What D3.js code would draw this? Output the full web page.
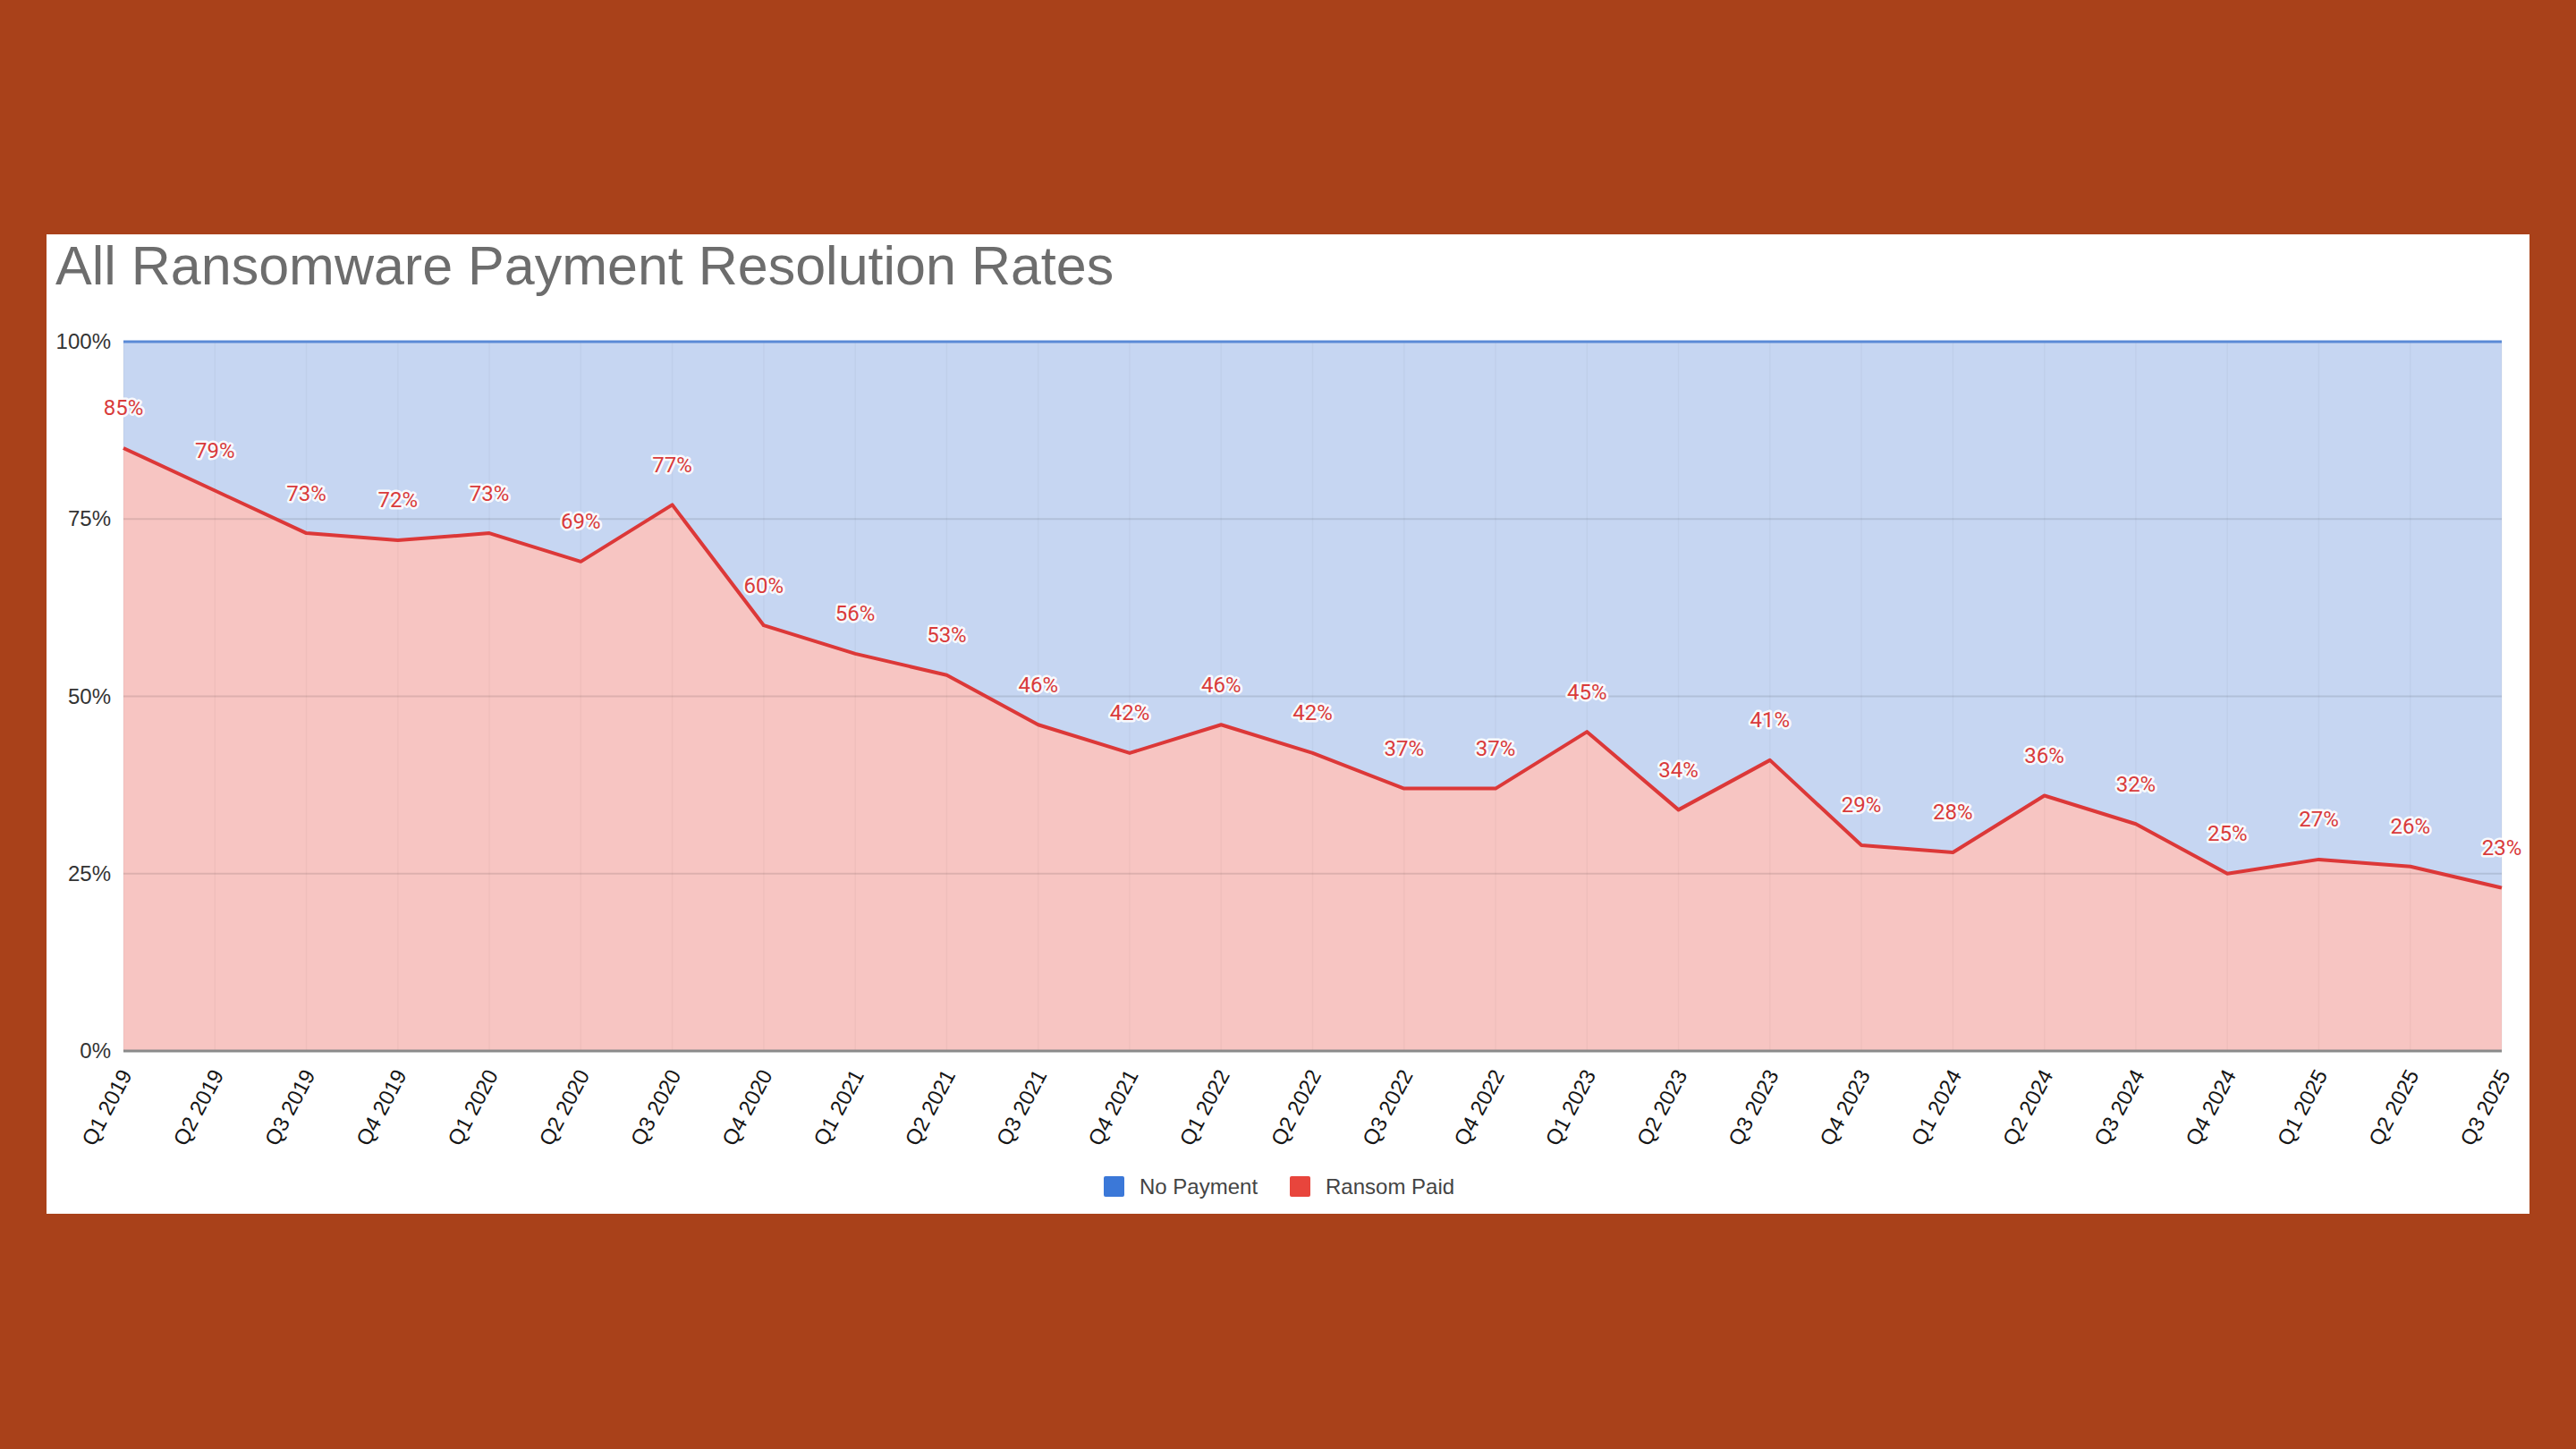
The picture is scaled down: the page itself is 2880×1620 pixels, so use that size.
<!DOCTYPE html>
<html>
<head>
<meta charset="utf-8">
<script src="https://cdn.jsdelivr.net/npm/d3@7"></script>
<style>
  html, body { margin: 0; padding: 0; background: #a9411a; }
  svg { display: block; }
</style>
</head>
<body>
<svg id="chart" width="2880" height="1620"></svg>
<script>
const quarters = ["Q1 2019","Q2 2019","Q3 2019","Q4 2019","Q1 2020","Q2 2020","Q3 2020","Q4 2020",
  "Q1 2021","Q2 2021","Q3 2021","Q4 2021","Q1 2022","Q2 2022","Q3 2022","Q4 2022",
  "Q1 2023","Q2 2023","Q3 2023","Q4 2023","Q1 2024","Q2 2024","Q3 2024","Q4 2024",
  "Q1 2025","Q2 2025","Q3 2025"];
const ransomPaid = [85,79,73,72,73,69,77,60,56,53,46,42,46,42,37,37,45,34,41,29,28,36,32,25,27,26,23];
const yTicks = [0,25,50,75,100];
const seriesNames = ["No Payment","Ransom Paid"];
const titleText = "All Ransomware Payment Resolution Rates";

const svg = d3.select("#chart");
svg.append("rect").attr("x",0).attr("y",0).attr("width",2880).attr("height",1620).attr("fill","#a9411a");
svg.append("rect").attr("x",52).attr("y",262).attr("width",2776).attr("height",1095).attr("fill","#ffffff");

const L = 138, R = 2797, T = 382, B = 1175;
const x = d3.scalePoint().domain(quarters).range([L, R]);
const y = d3.scaleLinear().domain([0,100]).range([B, T]);
const data = quarters.map((q,i)=>({q, v: ransomPaid[i]}));

// Title
svg.append("text").attr("x",62).attr("y",318).text(titleText)
  .attr("font-family","'Liberation Sans', Arial, sans-serif").attr("font-size",61).attr("fill","#6d6d6d");

// Areas
svg.append("path").datum(data)
  .attr("d", d3.area().x(d=>x(d.q)).y0(y(100)).y1(d=>y(d.v)))
  .attr("fill","#c6d6f2");
svg.append("path").datum(data)
  .attr("d", d3.area().x(d=>x(d.q)).y0(y(0)).y1(d=>y(d.v)))
  .attr("fill","#f7c5c2");

// Vertical faint lines
svg.append("g").selectAll("line").data(quarters).join("line")
  .attr("x1",d=>x(d)).attr("x2",d=>x(d)).attr("y1",T).attr("y2",B)
  .attr("stroke","#000").attr("stroke-opacity",0.03).attr("stroke-width",1.5);

// Horizontal gridlines
svg.append("g").selectAll("line").data(yTicks.filter(t=>t>0 && t<100)).join("line")
  .attr("x1",L).attr("x2",R).attr("y1",d=>y(d)).attr("y2",d=>y(d))
  .attr("stroke","#000").attr("stroke-opacity",0.1).attr("stroke-width",2);

// top line (No Payment stack top)
svg.append("path").datum(data)
  .attr("d", d3.line().x(d=>x(d.q)).y(()=>y(100)))
  .attr("fill","none").attr("stroke","#5a8ad6").attr("stroke-width",3);

// Ransom line
svg.append("path").datum(data)
  .attr("d", d3.line().x(d=>x(d.q)).y(d=>y(d.v)))
  .attr("fill","none").attr("stroke","#dc3838").attr("stroke-width",4).attr("stroke-linejoin","round");

// Baseline
svg.append("line").attr("x1",L).attr("x2",R).attr("y1",B).attr("y2",B)
  .attr("stroke","#8a8a8a").attr("stroke-width",3);

// Y axis labels
const yAxis = d3.axisLeft(y).tickValues(yTicks).tickFormat(d=>d+"%").tickSize(0).tickPadding(14);
const gy = svg.append("g").attr("transform",`translate(${L},0)`).call(yAxis);
gy.select(".domain").remove();
gy.selectAll("text").attr("font-family","'Liberation Sans', Arial, sans-serif").attr("font-size",24).attr("fill","#333");

// X axis labels
const xAxis = d3.axisBottom(x).tickSize(0).tickPadding(0);
const gx = svg.append("g").attr("transform",`translate(0,${B})`).call(xAxis);
gx.select(".domain").remove();
gx.selectAll("text")
  .attr("font-family","'Liberation Sans', Arial, sans-serif").attr("font-size",24).attr("fill","#151515")
  .attr("text-anchor","end")
  .attr("dy","0.75em")
  .attr("transform","translate(-6,18) rotate(-62)")
  .attr("y",0).attr("x",0);

// Data labels
svg.append("g").selectAll("text").data(data).join("text")
  .attr("x",d=>x(d.q)).attr("y",d=>y(d.v)-45).attr("dy","0.35em")
  .attr("text-anchor","middle")
  .text(d=>d.v+"%")
  .attr("font-family","Roboto, 'Liberation Sans', Arial, sans-serif").attr("font-size",24).attr("font-weight",400)
  .attr("fill","#d93b3b").attr("stroke","#ffffff").attr("stroke-width",5).attr("stroke-opacity",0.9)
  .attr("paint-order","stroke").attr("stroke-linejoin","round");

// Legend
const legColors = ["#3b78d8","#e8453c"];
const legX = [1234, 1442];
const lg = svg.append("g");
seriesNames.forEach((n,i)=>{
  lg.append("rect").attr("x",legX[i]).attr("y",1315).attr("width",23).attr("height",23).attr("rx",2).attr("fill",legColors[i]);
  lg.append("text").attr("x",legX[i]+40).attr("y",1327).attr("dy","0.35em").text(n)
    .attr("font-family","'Liberation Sans', Arial, sans-serif").attr("font-size",24).attr("fill","#444");
});
</script>
</body>
</html>
